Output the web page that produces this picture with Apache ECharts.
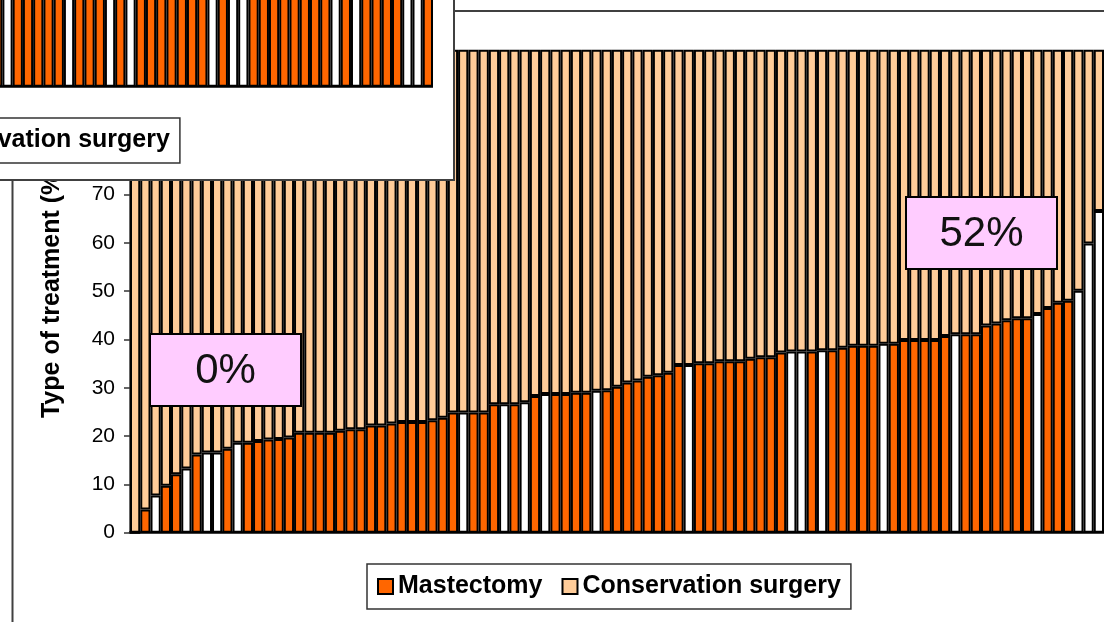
<!DOCTYPE html>
<html>
<head>
<meta charset="utf-8">
<script src="https://cdn.jsdelivr.net/npm/echarts@6/dist/echarts.min.js"></script>
<style>
  html, body { margin: 0; padding: 0; background: #fff; overflow: hidden; }
  #main { position: absolute; left: 0; top: 0; width: 1104px; height: 622px; }
  #inset { position: absolute; left: 0; top: 0; width: 453px; height: 179px; background: #fff;
           border-right: 2px solid #404040; border-bottom: 2px solid #404040; overflow: hidden; }
  #insetChart { position: absolute; left: -671px; top: -446px; width: 1104px; height: 622px; }
</style>
</head>
<body>
<div id="main"></div>
<div id="inset"><div id="insetChart"></div></div>
<script>
// % of mastectomy per hospital, sorted ascending
const mastectomy = [
  0, 4.8, 7.7, 9.7, 12.1, 13.3, 16.2, 16.6, 16.6, 17.4,
  18.6, 18.6, 19.0, 19.3, 19.4, 19.7, 20.7, 20.7, 20.7, 20.7,
  21.1, 21.4, 21.4, 22.2, 22.2, 22.6, 22.9, 22.9, 22.9, 23.3,
  23.8, 24.9, 24.9, 24.9, 24.9, 26.6, 26.6, 26.6, 27.0, 28.3,
  28.7, 28.7, 28.7, 29.0, 29.0, 29.4, 29.5, 30.2, 31.1, 31.5,
  32.3, 32.6, 33.1, 34.7, 34.7, 35.1, 35.1, 35.5, 35.5, 35.5,
  36.0, 36.3, 36.3, 37.3, 37.5, 37.5, 37.5, 37.8, 37.8, 38.3,
  38.7, 38.7, 38.7, 39.1, 39.1, 39.9, 39.9, 39.9, 39.9, 40.7,
  41.1, 41.1, 41.1, 42.9, 43.3, 44.0, 44.4, 44.4, 45.3, 46.5,
  47.6, 48.0, 50.1, 59.9, 66.6
]
// hospitals drawn with a white mastectomy bar (1-based positions)
const highlighted = [3, 6, 8, 9, 11, 33, 37, 39, 41, 46, 55, 65, 66, 68, 74, 81, 89, 93, 94, 95]
// the chart behind, top-left: only its lower right corner shows
const insetHighlighted = [54, 60, 64, 66, 74, 76, 77, 86, 88, 93, 94]
const hospitals = mastectomy.map((v, i) => String(i + 1))
const conservation = mastectomy.map(v => +(100 - v).toFixed(1))
const yTicks = { min: 0, max: 100, interval: 10 }
const notes = [
  { text: '0%', x: 150, y: 334 },
  { text: '52%', x: 906, y: 197 }
]

const font = "'Liberation Sans', Arial, sans-serif"
const orange = '#FF6600'
const peach = '#FFCC99'

const buildOption = (white, withNotes) => {
  let graphic = [{
    type: 'rect', z: -1, silent: true,
    shape: { x: 12.5, y: 11, width: 2000, height: 2000 },
    style: { fill: 'none', stroke: '#404040', lineWidth: 2 }
  }]
  if (withNotes) {
    notes.forEach(n => {
      graphic.push({
        type: 'rect', z: 100,
        shape: { x: n.x, y: n.y, width: 151, height: 72 },
        style: { fill: '#FFCCFF', stroke: '#000', lineWidth: 2 }
      })
      graphic.push({
        type: 'text', z: 101, x: n.x + 75.5, y: n.y + 37,
        style: { text: n.text, font: '42px ' + font, fill: '#111', align: 'center', verticalAlign: 'middle' }
      })
    })
  }
  return {
    backgroundColor: '#fff',
    animation: false,
    textStyle: { fontFamily: font },
    graphic: graphic,
    legend: {
      left: 367, top: 564,
      data: ['Mastectomy', 'Conservation surgery'],
      icon: 'rect', itemWidth: 15, itemHeight: 15, itemGap: 19,
      backgroundColor: '#fff', borderColor: '#333', borderWidth: 1.5,
      padding: [10, 10],
      textStyle: { fontSize: 25, fontWeight: 'bold', color: '#000', fontFamily: font }
    },
    grid: { left: 130, right: 0, top: 49.7, bottom: 89.3 },
    xAxis: {
      type: 'category',
      data: hospitals,
      axisLine: { lineStyle: { color: '#000', width: 2.5 } },
      axisTick: { show: false },
      axisLabel: { show: false }
    },
    yAxis: {
      type: 'value',
      min: yTicks.min, max: yTicks.max, interval: yTicks.interval,
      name: 'Type of treatment (%)',
      nameLocation: 'middle',
      nameGap: 65,
      nameTextStyle: { fontSize: 25, fontWeight: 'bold', color: '#000', fontFamily: font },
      axisLine: { show: true, lineStyle: { color: '#333', width: 1.5 } },
      axisTick: { show: true, length: 6, lineStyle: { color: '#333', width: 1.5 } },
      axisLabel: { fontSize: 21, color: '#000', margin: 15, fontFamily: font },
      splitLine: { show: false }
    },
    series: [{
      name: 'Mastectomy',
      type: 'bar',
      stack: 'total',
      barCategoryGap: '0%',
      itemStyle: { color: orange, borderColor: '#000', borderWidth: 2 },
      data: mastectomy.map((v, i) => white.indexOf(i + 1) >= 0 ? { value: v, itemStyle: { color: '#fff' } } : v)
    }, {
      name: 'Conservation surgery',
      type: 'bar',
      stack: 'total',
      barCategoryGap: '0%',
      itemStyle: { color: peach, borderColor: '#000', borderWidth: 2 },
      data: conservation
    }]
  }
}

const chart = echarts.init(document.getElementById('main'))
chart.setOption(buildOption(highlighted, true))
const insetChart = echarts.init(document.getElementById('insetChart'))
insetChart.setOption(buildOption(insetHighlighted, false))
</script>
</body>
</html>
